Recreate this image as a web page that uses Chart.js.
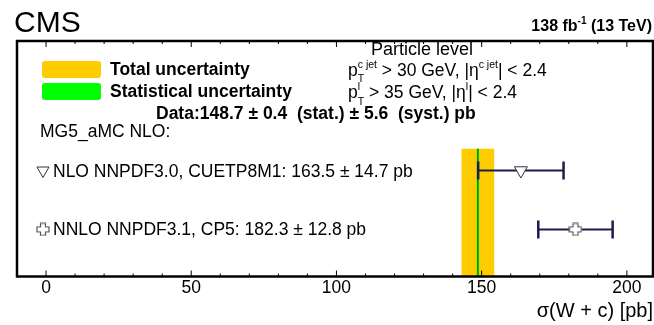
<!DOCTYPE html>
<html>
<head>
<meta charset="utf-8">
<script src="https://cdn.jsdelivr.net/npm/chart.js@4.4.1/dist/chart.umd.min.js"></script>
<style>
html,body{margin:0;padding:0;background:#fff}
#wrap{position:relative;width:654px;height:325px}
</style>
</head>
<body>
<div id="wrap"><canvas id="chart" width="654" height="325"></canvas></div>
<script>
/* ---- data ---- */
const models=["NLO NNPDF3.0, CUETP8M1","NNLO NNPDF3.1, CP5"]
const modelXsec=[163.5,182.3]
const modelErr=[14.7,12.8]
const modelRow=[1,0]
const dataXsec=148.7
const dataStat=0.4
const dataSyst=5.6
const xTicks=[0,50,100,150,200]
const xMinor=[-10,0,10,20,30,40,50,60,70,80,90,100,110,120,130,140,150,160,170,180,190,200]

const dataTotal=Math.sqrt(dataStat*dataStat+dataSyst*dataSyst)
const FONT='"Liberation Sans", Arial, "DejaVu Sans", sans-serif'
const YELLOW='#ffcc00', GREEN='#00ff00', BAR='#1c1c4e'
const BAND_TOP=1.37
const TXT=17.5

/* open cross marker as an image point style */
function openCross(){
  const c=document.createElement('canvas')
  c.width=14;c.height=14
  const g=c.getContext('2d')
  const a=4.5,b=9.5,e=1,f=13
  g.beginPath()
  g.moveTo(a,e);g.lineTo(b,e);g.lineTo(b,a);g.lineTo(f,a);g.lineTo(f,b);g.lineTo(b,b)
  g.lineTo(b,f);g.lineTo(a,f);g.lineTo(a,b);g.lineTo(e,b);g.lineTo(e,a);g.lineTo(a,a);g.closePath()
  g.fillStyle='#fff';g.fill()
  g.strokeStyle='#555';g.lineWidth=1.2;g.stroke()
  return c
}
const crossImg=openCross()
const markerStyle=[
  {pointStyle:'triangle',rotation:180,radius:7.5,backgroundColor:'#fff',borderColor:'#333',borderWidth:1},
  {pointStyle:crossImg,rotation:0,radius:7,backgroundColor:'#fff',borderColor:'#555',borderWidth:1}
]

/* ---- text helpers ---- */
function runs(ctx,x,y,list,draw){
  let cx=x
  for(const r of list){
    const parts=Array.isArray(r)?r:[r]
    let w=0
    for(const p of parts){
      ctx.font=(p.bold?'bold ':'')+p.size+'px '+FONT
      if(draw) ctx.fillText(p.t,cx,y+(p.dy||0))
      w=Math.max(w,ctx.measureText(p.t).width)
    }
    cx+=w
  }
  return cx-x
}

/* ---- band + error bars under the markers ---- */
const bands={
  id:'bands',
  beforeDatasetsDraw(chart){
    const {ctx,chartArea:a,scales:{x,y}}=chart
    ctx.save()
    const top=y.getPixelForValue(BAND_TOP)
    const l=x.getPixelForValue(dataXsec-dataTotal), r=x.getPixelForValue(dataXsec+dataTotal)
    ctx.fillStyle=YELLOW
    ctx.fillRect(l,top,r-l,a.bottom-top)
    const sl=x.getPixelForValue(dataXsec-dataStat), sr=x.getPixelForValue(dataXsec+dataStat)
    ctx.fillStyle=GREEN
    ctx.fillRect(sl,top,sr-sl,a.bottom-top)
    const c=x.getPixelForValue(dataXsec)
    ctx.strokeStyle='#0a5a0a';ctx.lineWidth=1
    ctx.beginPath();ctx.moveTo(c,top);ctx.lineTo(c,a.bottom);ctx.stroke()

    ctx.strokeStyle=BAR
    models.forEach((m,i)=>{
      const py=y.getPixelForValue(modelRow[i])
      const lo=x.getPixelForValue(modelXsec[i]-modelErr[i])
      const hi=x.getPixelForValue(modelXsec[i]+modelErr[i])
      ctx.lineWidth=2
      ctx.beginPath();ctx.moveTo(lo,py);ctx.lineTo(hi,py);ctx.stroke()
      ctx.lineWidth=2.5
      ctx.beginPath()
      ctx.moveTo(lo,py-9);ctx.lineTo(lo,py+9)
      ctx.moveTo(hi,py-9);ctx.lineTo(hi,py+9)
      ctx.stroke()
    })
    ctx.restore()
  }
}

/* ---- frame, inward ticks, labels ---- */
const frame={
  id:'frame',
  afterDraw(chart){
    const {ctx,chartArea:a,scales:{x,y}}=chart
    ctx.save()
    ctx.strokeStyle='#000'
    ctx.lineWidth=1
    xMinor.forEach(v=>{
      const px=x.getPixelForValue(v)
      const len=v%50===0?6:3
      ctx.beginPath()
      ctx.moveTo(px,a.bottom);ctx.lineTo(px,a.bottom-len)
      ctx.moveTo(px,a.top);ctx.lineTo(px,a.top+len)
      ctx.stroke()
    })
    ctx.lineWidth=2.5
    ctx.strokeRect(a.left,a.top,a.right-a.left,a.bottom-a.top)

    ctx.fillStyle='#000'
    ctx.textBaseline='alphabetic'
    ctx.textAlign='left'

    ctx.font='30px '+FONT
    ctx.fillText('CMS',14,32)

    const lumi=[{t:'138 fb',size:16,bold:true},{t:'-1',size:10,bold:true,dy:-7},{t:' (13 TeV)',size:16,bold:true}]
    const lw=runs(ctx,0,0,lumi,false)
    runs(ctx,652-lw,31,lumi,true)

    ctx.font='18px '+FONT
    ctx.textAlign='center'
    ctx.fillText('Particle level',422,55)
    ctx.textAlign='left'

    runs(ctx,348,76,[
      {t:'p',size:TXT},
      [{t:'c jet',size:10.5,dy:-8},{t:'T',size:10.5,dy:6}],
      {t:' > 30 GeV, |η',size:TXT},
      {t:'c jet',size:10.5,dy:-8},
      {t:'| < 2.4',size:TXT}
    ],true)
    runs(ctx,348,98,[
      {t:'p',size:TXT},
      [{t:'l',size:10.5,dy:-8},{t:'T',size:10.5,dy:7}],
      {t:' > 35 GeV, |η',size:TXT},
      {t:'l',size:10.5,dy:-8},
      {t:'| < 2.4',size:TXT}
    ],true)

    // legend
    ctx.fillStyle=YELLOW
    ctx.beginPath();ctx.roundRect(42,61,59,17,3);ctx.fill()
    ctx.fillStyle=GREEN
    ctx.beginPath();ctx.roundRect(42,83,59,17,3);ctx.fill()
    ctx.fillStyle='#000'
    ctx.font='bold '+TXT+'px '+FONT
    ctx.fillText('Total uncertainty',110,75)
    ctx.fillText('Statistical uncertainty',110,97)
    ctx.fillText('Data:'+dataXsec.toFixed(1)+' ± '+dataStat.toFixed(1)+'  (stat.) ± '+dataSyst.toFixed(1)+'  (syst.) pb',156,119)

    ctx.font=TXT+'px '+FONT
    ctx.fillText('MG5_aMC NLO:',40,137)

    models.forEach((m,i)=>{
      const py=y.getPixelForValue(modelRow[i])
      const st=Object.assign({},markerStyle[i],{radius:7})
      ctx.fillStyle=st.backgroundColor
      ctx.strokeStyle=st.borderColor
      ctx.lineWidth=st.borderWidth
      Chart.helpers.drawPoint(ctx,st,43,py)
      ctx.fillStyle='#000'
      ctx.font=TXT+'px '+FONT
      ctx.fillText(m+': '+modelXsec[i].toFixed(1)+' ± '+modelErr[i].toFixed(1)+' pb',53,py+6)
    })
    ctx.restore()
  }
}

/* ---- chart ---- */
const chart=new Chart(document.getElementById('chart'),{
  type:'scatter',
  data:{
    datasets:models.map((m,i)=>({
      label:m,
      data:[{x:modelXsec[i],y:modelRow[i]}],
      pointStyle:markerStyle[i].pointStyle,
      rotation:markerStyle[i].rotation,
      pointRadius:markerStyle[i].radius,
      backgroundColor:markerStyle[i].backgroundColor,
      borderColor:markerStyle[i].borderColor,
      borderWidth:markerStyle[i].borderWidth
    }))
  },
  options:{
    responsive:false,
    animation:false,
    devicePixelRatio:1,
    layout:{autoPadding:false,padding:{left:17,top:41,right:1,bottom:4}},
    plugins:{legend:{display:false},tooltip:{enabled:false}},
    scales:{
      x:{
        type:'linear',min:-10,max:209,
        afterBuildTicks:s=>{s.ticks=xTicks.map(v=>({value:v}))},
        afterFit:s=>{s.paddingLeft=0;s.paddingRight=0},
        grid:{display:false,drawTicks:false},
        border:{display:false},
        ticks:{color:'#000',font:{size:TXT,family:FONT},padding:1.5,maxRotation:0,autoSkip:false},
        title:{display:true,text:'σ(W + c) [pb]',align:'end',color:'#000',font:{size:20,family:FONT,lineHeight:1},padding:{top:0.5,bottom:0}}
      },
      y:{type:'linear',min:-0.8,max:3.2,display:false}
    }
  },
  plugins:[bands,frame]
})
</script>
</body>
</html>
